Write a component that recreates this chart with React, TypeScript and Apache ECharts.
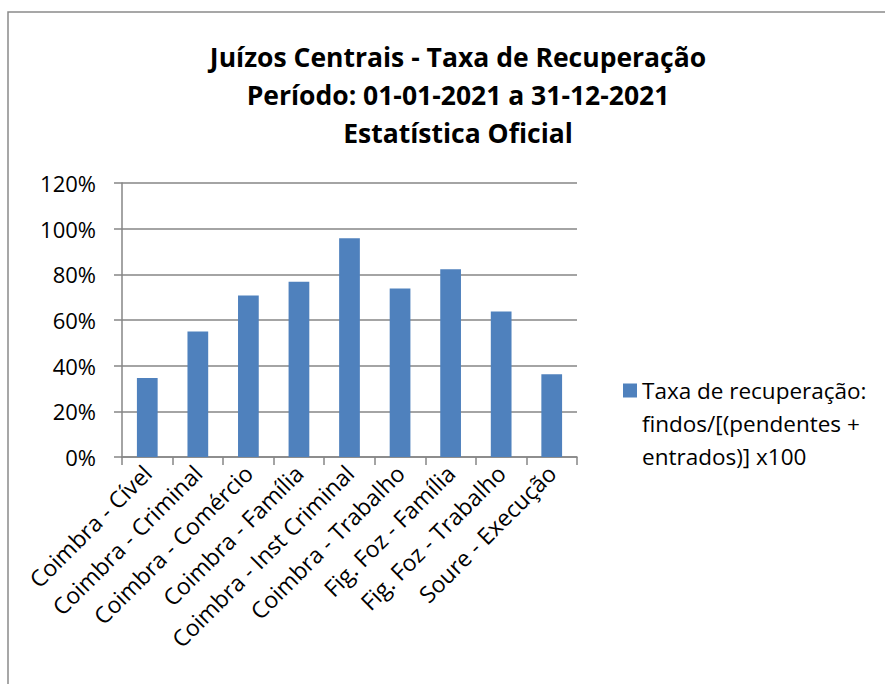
import React, { useEffect, useRef } from "react";
import * as echarts from "echarts";

const categories = [
  "Coimbra - Cível",
  "Coimbra - Criminal",
  "Coimbra - Comércio",
  "Coimbra - Família",
  "Coimbra - Inst Criminal",
  "Coimbra - Trabalho",
  "Fig. Foz - Família",
  "Fig. Foz - Trabalho",
  "Soure - Execução",
];
const values = [34.6, 55.0, 70.7, 76.8, 95.8, 73.8, 82.2, 63.7, 36.2];
const seriesName = "Taxa de recuperação:\nfindos/[(pendentes +\nentrados)] x100";
const titleText = "Juízos Centrais - Taxa de Recuperação\nPeríodo: 01-01-2021 a 31-12-2021\nEstatística Oficial";

const FONT = "'Open Sans', Lato, sans-serif";

export default function App() {
  const ref = useRef<HTMLDivElement>(null);
  useEffect(() => {
    if (!ref.current) return;
    const chart = echarts.init(ref.current, undefined, { renderer: "svg" });
    chart.setOption({
      animation: false,
      backgroundColor: "#ffffff",
      textStyle: { fontFamily: FONT },
      title: {
        text: titleText,
        left: 453,
        top: 33,
        textAlign: "center",
        textStyle: {
          fontFamily: FONT,
          fontSize: 26.5,
          fontWeight: "bold",
          lineHeight: 38,
          color: "#000",
        },
      },
      graphic: [
        {
          type: "rect",
          shape: { x: 8, y: 12, width: 900, height: 700 },
          style: { fill: "none", stroke: "#8a8a8a", lineWidth: 1.5 },
          silent: true,
        },
      ],
      legend: {
        left: 618,
        top: 303,
        orient: "vertical",
        icon: "rect",
        itemWidth: 14,
        itemHeight: 14,
        itemGap: 6,
        formatter: (name: string) => "\n\n" + name,
        textStyle: {
          fontFamily: FONT,
          fontSize: 22.5,
          lineHeight: 33,
          color: "#000",
        },
        data: [seriesName],
      },
      grid: { left: 122, right: 308, top: 183, bottom: 227, containLabel: false },
      xAxis: {
        type: "category",
        data: categories,
        axisLine: { lineStyle: { color: "#868686", width: 1.5 } },
        axisTick: { show: true, length: 8, lineStyle: { color: "#868686", width: 1.5 } },
        axisLabel: {
          rotate: 45,
          interval: 0,
          margin: 12,
          fontFamily: FONT,
          fontSize: 23,
          color: "#000",
        },
      },
      yAxis: {
        type: "value",
        min: 0,
        max: 120,
        interval: 20,
        axisLine: { show: true, lineStyle: { color: "#868686", width: 1.5 } },
        axisTick: { show: true, length: 8, lineStyle: { color: "#868686", width: 1.5 } },
        splitLine: { show: true, lineStyle: { color: "#868686", width: 1.5 } },
        axisLabel: {
          formatter: "{value}%",
          margin: 26,
          fontFamily: FONT,
          fontSize: 22,
          color: "#000",
        },
      },
      series: [
        {
          name: seriesName,
          type: "bar",
          data: values,
          barWidth: "41%",
          itemStyle: { color: "#4F81BD" },
        },
      ],
    });
    return () => chart.dispose();
  }, []);
  return (
    <div
      ref={ref}
      style={{ position: "fixed", left: 0, top: 0, width: 885, height: 684, background: "#fff" }}
    />
  );
}
